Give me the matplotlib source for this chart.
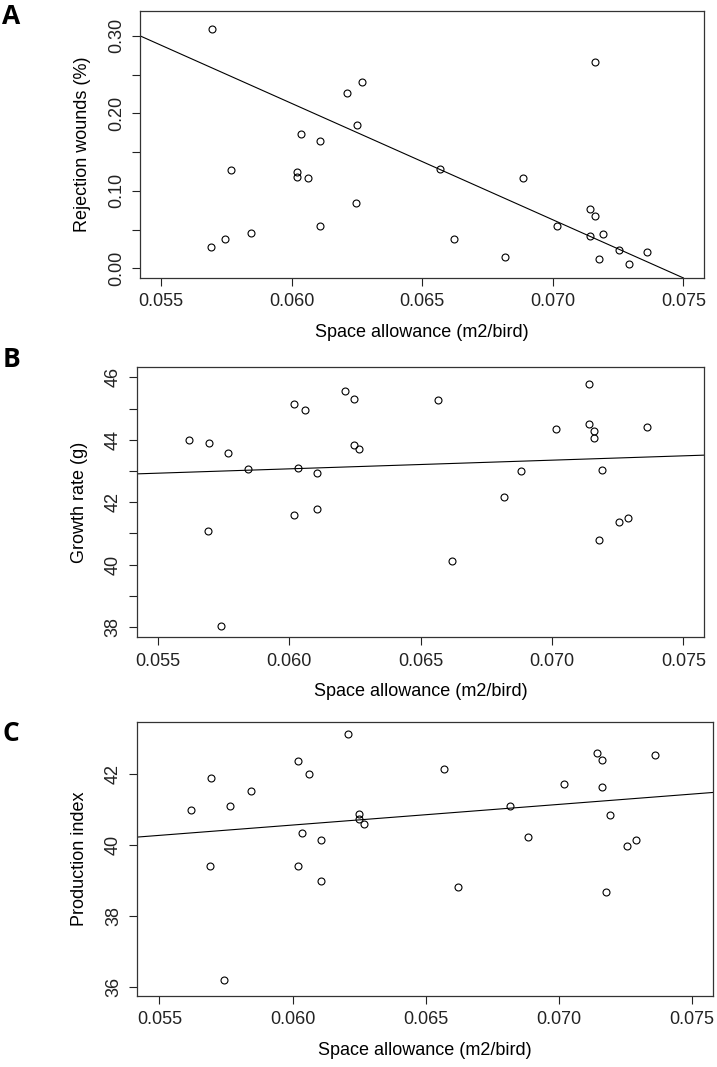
import numpy as np
import matplotlib
matplotlib.use("Agg")
import matplotlib.pyplot as plt

plt.rcParams['font.family'] = ['Liberation Sans', 'DejaVu Sans']

# panel A: rejection wounds
space_a = [0.05695, 0.06212, 0.06249, 0.06037, 0.06108, 0.05767, 0.06021, 0.06021,
           0.06062, 0.06248, 0.06108, 0.05846, 0.05744, 0.05691, 0.06268, 0.07163,
           0.06569, 0.06885, 0.07142, 0.07163, 0.07017, 0.07142, 0.07191, 0.07255,
           0.07362, 0.06622, 0.06818, 0.07178, 0.07292]
wounds = [0.309, 0.226, 0.185, 0.173, 0.164, 0.127, 0.124, 0.118,
          0.116, 0.084, 0.055, 0.046, 0.038, 0.027, 0.241, 0.266,
          0.128, 0.117, 0.076, 0.068, 0.054, 0.041, 0.044, 0.023,
          0.021, 0.038, 0.015, 0.012, 0.005]
fit_a = (1.114, -15.02)

# panel B: growth rate
space_b = [0.0562, 0.05694, 0.05766, 0.05844, 0.05691, 0.05742, 0.06019, 0.0606,
           0.06212, 0.06248, 0.06248, 0.06265, 0.06035, 0.06106, 0.0602, 0.06106,
           0.06568, 0.07141, 0.07017, 0.07141, 0.07161, 0.07161, 0.07361, 0.06884,
           0.07192, 0.06817, 0.07254, 0.07291, 0.07178, 0.06621]
growth = [43.99, 43.91, 43.56, 43.07, 41.09, 38.03, 45.13, 44.95,
          45.55, 45.30, 43.82, 43.69, 43.09, 42.95, 41.59, 41.77,
          45.26, 45.79, 44.34, 44.50, 44.29, 44.05, 44.42, 43.01,
          43.04, 42.16, 41.37, 41.48, 40.79, 40.11]
fit_b = (41.40, 27.8)

# panel C: production index
space_c = [0.05619, 0.05693, 0.05765, 0.05843, 0.05689, 0.05743, 0.06019, 0.06061,
           0.06209, 0.06034, 0.06106, 0.06019, 0.06106, 0.0625, 0.0625, 0.06267,
           0.06568, 0.06621, 0.06817, 0.06885, 0.07017, 0.07142, 0.07162, 0.07162,
           0.07191, 0.07254, 0.0729, 0.07177, 0.07361]
production = [40.98, 41.89, 41.10, 41.54, 39.40, 36.18, 42.38, 42.00,
              43.15, 40.35, 40.14, 39.42, 38.98, 40.87, 40.74, 40.60,
              42.14, 38.82, 41.10, 40.24, 41.73, 42.60, 42.41, 41.63,
              40.86, 39.98, 40.14, 38.68, 42.55]
fit_c = (37.07, 58.3)

xticks = [0.055, 0.060, 0.065, 0.070, 0.075]
xlab = "Space allowance (m2/bird)"

fig = plt.figure(figsize=(7.17, 10.67), dpi=100)

panels = [
    dict(pos=[0.1953, 0.7395, 0.7866, 0.2502], x=space_a, y=wounds, fit=fit_a,
         xlim=(0.0542, 0.07579), ylim=(-0.0125, 0.332),
         yticks=np.arange(0, 0.301, 0.05), ylabels=["0.00", "", "0.10", "", "0.20", "", "0.30"],
         ylab="Rejection wounds (%)", letter="A", lety=0.997),
    dict(pos=[0.1907, 0.4027, 0.7916, 0.2536], x=space_b, y=growth, fit=fit_b,
         xlim=(0.0542, 0.0758), ylim=(37.67, 46.34),
         yticks=np.arange(38, 46.1, 1), ylabels=["38", "", "40", "", "42", "", "44", "", "46"],
         ylab="Growth rate (g)", letter="B", lety=0.676),
    dict(pos=[0.1915, 0.0665, 0.8033, 0.2566], x=space_c, y=production, fit=fit_c,
         xlim=(0.05417, 0.07579), ylim=(35.74, 43.47),
         yticks=[36, 38, 40, 42], ylabels=["36", "38", "40", "42"],
         ylab="Production index", letter="C", lety=0.325),
]

for p in panels:
    ax = fig.add_axes(p["pos"])
    ax.plot(p["x"], p["y"], 'o', mfc='none', mec='black', ms=5, mew=0.8, ls='none')
    b0, b1 = p["fit"]
    ax.axline((0, b0), slope=b1, color='black', lw=0.8)
    ax.set_xlim(*p["xlim"])
    ax.set_ylim(*p["ylim"])
    ax.set_xticks(xticks)
    ax.set_xticklabels(["%.3f" % v for v in xticks], fontsize=13)
    ax.set_yticks(p["yticks"])
    ax.set_yticklabels(p["ylabels"], fontsize=13, rotation=90, va='center')
    ax.tick_params(direction='out', length=6, width=0.8, pad=5, colors='#222222')
    for s in ax.spines.values():
        s.set_linewidth(0.9)
        s.set_color('#333333')
    ax.set_xlabel(xlab, fontsize=13, labelpad=10)
    ax.set_ylabel(p["ylab"], fontsize=13, labelpad=12)
    fig.text(0.003, p["lety"], p["letter"], fontsize=19, fontweight='bold',
             family='Open Sans', va='top', ha='left')

fig.savefig("out.png", dpi=100)
